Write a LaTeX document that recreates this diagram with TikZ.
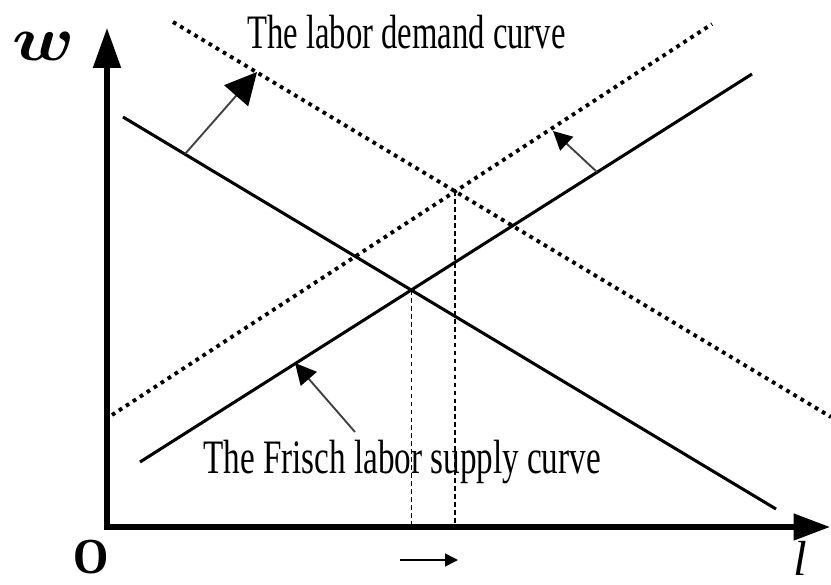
\documentclass[tikz,border=0pt]{standalone}
\usepackage{amsmath}
\usepackage{graphicx}
\usepackage{fontspec}
\setmainfont{Liberation Serif}
\usetikzlibrary{arrows.meta}

\begin{document}
\begin{tikzpicture}[x=0.03cm,y=-0.03cm,
  axis/.style={line width=4.3pt,{Triangle[length=34pt,width=23pt]}-{Triangle[length=31pt,width=22pt]}},
  curve/.style={line width=2.6pt},
  shifted/.style={line width=3.3pt,dash pattern=on 3.2pt off 3.9pt},
  guide/.style={line width=1.2pt,dash pattern=on 4pt off 2.8pt},
  shiftarrow/.style={line width=1.6pt,black!75,-{Triangle[length=#1,width=#1,color=black]}},
  curvelabel/.style={font=\fontsize{41}{41}\selectfont,anchor=base west,inner sep=0pt}]
  \useasboundingbox (0,0) rectangle (831,585);
  \coordinate (O) at (107,527);
  \coordinate (W) at (107,28);
  \coordinate (L) at (830,527);
  \coordinate (Da) at (123,117);
  \coordinate (Db) at (776,509);
  \coordinate (Dc) at (173,22);
  \coordinate (Dd) at (831,417);
  \coordinate (Sa) at (140,462);
  \coordinate (Sb) at (752,74);
  \coordinate (Sc) at (112,415);
  \coordinate (Sd) at (712,24);
  \coordinate (E) at (intersection of Da--Db and Sa--Sb);
  \coordinate (F) at (intersection of Dc--Dd and Sc--Sd);
  \draw[guide] (E) -- (E |- O);
  \draw[guide] (F) -- (F |- O);
  \draw[axis] (W) -- (O) -- (L);
  \draw[curve] (Da) -- (Db);
  \draw[curve] (Sa) -- (Sb);
  \draw[shifted] (Dc) -- (Dd);
  \draw[shifted] (Sc) -- (Sd);
  \coordinate (p1) at (185,154);
  \coordinate (q1) at (257,72);
  \coordinate (p2) at (597,172);
  \coordinate (q2) at (553,131);
  \coordinate (p3) at (355,432);
  \coordinate (q3) at (295,363);
  \coordinate (m1) at (400,560);
  \coordinate (m2) at (458,560);
  \draw[shiftarrow=27pt] (p1) -- (q1);
  \draw[shiftarrow=16pt] (p2) -- (q2);
  \draw[shiftarrow=18pt] (p3) -- (q3);
  \draw[line width=1.3pt,-{Triangle[length=11pt,width=11pt]}] (m1) -- (m2);
  \node[curvelabel] (dl) at (247,48) {\scalebox{.68}[1]{The labor demand curve}};
  \node[curvelabel] (sl) at (203,473) {\scalebox{.69}[1]{The Frisch labor supply curve}};
  \node[anchor=base,inner sep=0pt] (wl) at (44,60) {\scalebox{6.2}[5.4]{\boldmath$w$}};
  \node[anchor=base,inner sep=0pt,font=\fontsize{43}{43}\selectfont\bfseries] (ol) at (91,573) {\scalebox{.9}[1]{O}};
  \node[anchor=base,inner sep=0pt,font=\fontsize{42}{42}\selectfont\itshape] (ll) at (800,575) {l};
\end{tikzpicture}
\end{document}
